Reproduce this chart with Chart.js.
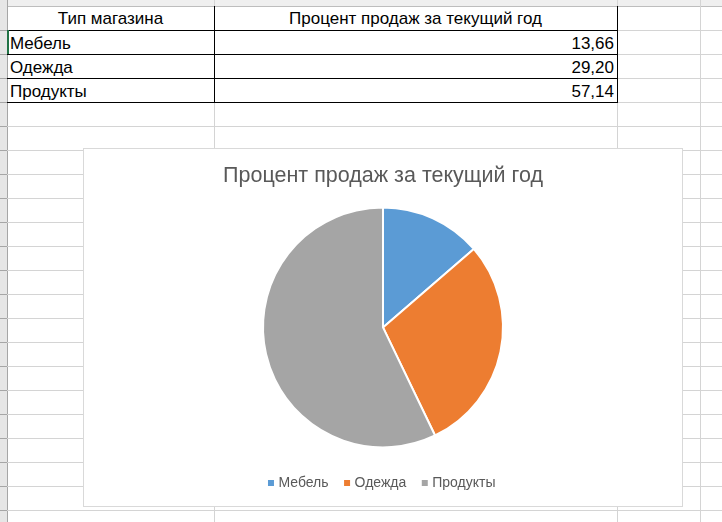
<!DOCTYPE html>
<html>
<head>
<meta charset="utf-8">
<script src="https://cdn.jsdelivr.net/npm/chart.js@4"></script>
<style>
  html, body { margin: 0; padding: 0; background: #fff; }
  #sheet { position: relative; width: 722px; height: 522px; overflow: hidden; font-family: "Liberation Sans", Arial, sans-serif; }
  .hl, .vl { position: absolute; background: #d4d4d4; }
  .hl { height: 1px; }
  .vl { width: 1px; }
  .blk { background: #000; }
  .cell { position: absolute; height: 24px; line-height: 25px; font-size: 17px; color: #000; white-space: nowrap; }
  #rowhead { position: absolute; left: 0; top: 0; width: 7px; height: 522px; background: #e6e6e6; border-right: 1px solid #a6a6a6; }
  #colhead { position: absolute; left: 0; top: 0; width: 722px; height: 6px; background: #efefef; border-bottom: 1px solid #bdbdbd; }
  #chartBox { position: absolute; left: 83px; top: 148px; width: 598px; height: 357px; border: 1px solid #d9d9d9; background: #fff; }
  #chartBox canvas { position: absolute; left: 0; top: 0; }
</style>
</head>
<body>
<div id="sheet">
  <div id="colhead"></div>
  <div id="rowhead"></div>
  <div id="chartBox"><canvas id="pie" width="598" height="357"></canvas></div>
</div>
<script>
const categories = ["Мебель", "Одежда", "Продукты"];
const salesPercent = [13.66, 29.20, 57.14];
const headerLabels = ["Тип магазина", "Процент продаж за текущий год"];
const chartTitle = "Процент продаж за текущий год";
const sliceColors = ["#5B9BD5", "#ED7D31", "#A5A5A5"];

const sheet = document.getElementById("sheet");
const ROW_H = 24;
const FIRST_ROW = 6;
const colEdges = [7, 214, 617, 700];

const addDiv = (cls, style, text) => {
  const d = document.createElement("div");
  d.className = cls;
  Object.assign(d.style, style);
  if (text !== undefined) d.textContent = text;
  sheet.insertBefore(d, document.getElementById("chartBox"));
  return d;
};

// plain grid of the sheet
for (let y = FIRST_ROW + ROW_H; y < 522; y += ROW_H) {
  addDiv("hl", { left: "7px", top: y + "px", width: "715px" });
  // little ticks on the row header
  addDiv("hl", { left: "0px", top: y + "px", width: "7px", background: "#a6a6a6", zIndex: 2 });
}
colEdges.slice(1).forEach((x) => {
  addDiv("vl", { left: x + "px", top: "0px", height: "522px" });
});

// table borders (black) around the filled cells
const tableBottom = FIRST_ROW + ROW_H * (categories.length + 1);
for (let r = 1; r <= categories.length + 1; r++) {
  addDiv("hl blk", { left: "7px", top: FIRST_ROW + ROW_H * r + "px", width: "611px" });
}
[214, 617].forEach((x) => {
  addDiv("vl blk", { left: x + "px", top: FIRST_ROW + "px", height: tableBottom - FIRST_ROW + 1 + "px" });
});
// selected cell marker
addDiv("vl", { left: "7px", top: FIRST_ROW + ROW_H + "px", height: ROW_H + "px", width: "2px", background: "#217346", zIndex: 3 });

// header row
addDiv("cell", { left: "7px", top: FIRST_ROW + "px", width: "207px", textAlign: "center" }, headerLabels[0]);
addDiv("cell", { left: "214px", top: FIRST_ROW + "px", width: "403px", textAlign: "center" }, headerLabels[1]);

// data rows
categories.forEach((name, i) => {
  const top = FIRST_ROW + ROW_H * (i + 1) + 1;
  addDiv("cell", { left: "10px", top: top + "px" }, name);
  addDiv("cell", { left: "214px", top: top + "px", width: "400px", textAlign: "right" },
    salesPercent[i].toFixed(2).replace(".", ","));
});

new Chart(document.getElementById("pie"), {
  type: "pie",
  data: {
    labels: categories,
    datasets: [
      {
        data: salesPercent,
        backgroundColor: sliceColors,
        borderColor: "#ffffff",
        borderWidth: 2,
        radius: 120,
      },
    ],
  },
  options: {
    responsive: false,
    animation: false,
    layout: { padding: { bottom: 6 } },
    plugins: {
      title: {
        display: true,
        text: chartTitle,
        color: "#595959",
        font: { family: "Liberation Sans", size: 21.5, weight: "normal" },
        padding: { top: 14, bottom: 8 },
      },
      legend: {
        position: "bottom",
        labels: {
          color: "#595959",
          font: { family: "Liberation Sans", size: 14 },
          usePointStyle: true,
          pointStyle: "rect",
          boxWidth: 1,
          boxHeight: 8,
          padding: 18,
        },
      },
      tooltip: { enabled: false },
    },
  },
});
</script>
</body>
</html>
